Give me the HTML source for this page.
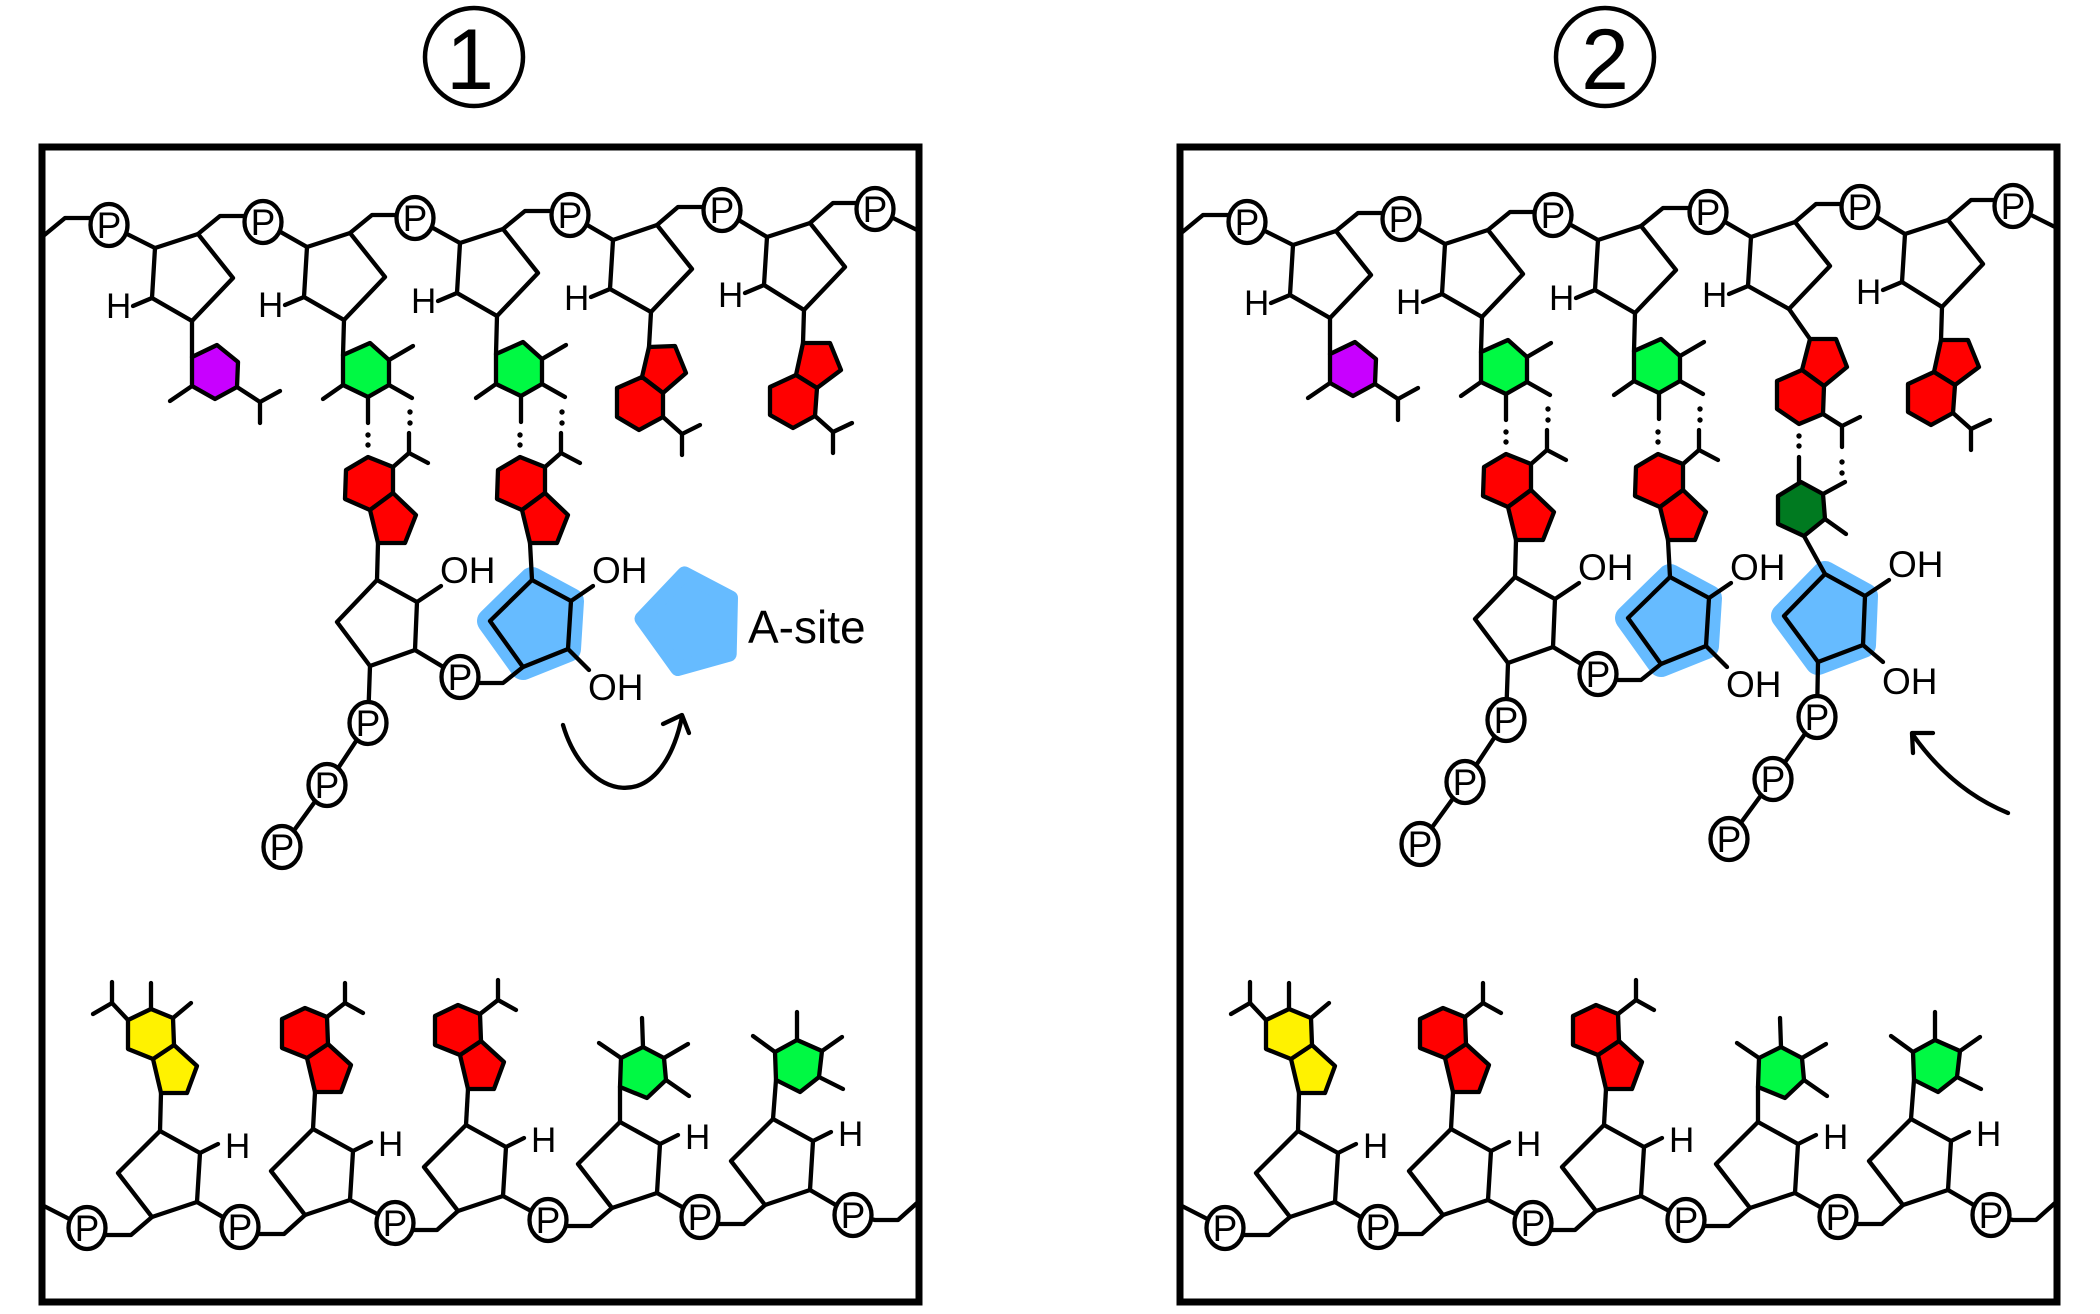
<!DOCTYPE html>
<html>
<head>
<meta charset="utf-8">
<style>
html,body{margin:0;padding:0;background:#fff;}
svg{display:block;}
.ln{fill:none;stroke:#000;stroke-width:4.3;stroke-linejoin:round;stroke-linecap:round;}
.sg{fill:#fff;stroke:#000;stroke-width:4.3;stroke-linejoin:round;}
.red{fill:#ff0000;stroke:#000;stroke-width:4.3;stroke-linejoin:round;}
.grn{fill:#00f943;stroke:#000;stroke-width:4.3;stroke-linejoin:round;}
.pur{fill:#c800ff;stroke:#000;stroke-width:4.3;stroke-linejoin:round;}
.yel{fill:#fff200;stroke:#000;stroke-width:4.3;stroke-linejoin:round;}
.dkg{fill:#007a20;stroke:#000;stroke-width:4.3;stroke-linejoin:round;}
.blu{fill:#66bbff;stroke:#000;stroke-width:4.3;stroke-linejoin:round;}
.hl{fill:#66bbff;stroke:#66bbff;stroke-width:26;stroke-linejoin:round;}
.pc{fill:#fff;stroke:#000;stroke-width:4.3;}
.pt{font-family:"Liberation Sans",sans-serif;font-size:37px;text-anchor:middle;fill:#000;}
.h{font-family:"Liberation Sans",sans-serif;font-size:35px;fill:#000;}
.oh{font-family:"Liberation Sans",sans-serif;font-size:37px;fill:#000;}
.box{fill:none;stroke:#000;stroke-width:7;}
</style>
</head>
<body>
<svg width="2100" height="1314" viewBox="0 0 2100 1314" xmlns="http://www.w3.org/2000/svg">

<!-- Labels -->
<circle cx="474" cy="57" r="49" fill="none" stroke="#000" stroke-width="4.5"/>
<text x="470" y="89" font-family="Liberation Sans, sans-serif" font-size="86" text-anchor="middle">1</text>
<circle cx="1605" cy="57" r="49" fill="none" stroke="#000" stroke-width="4.5"/>
<text x="1605" y="89" font-family="Liberation Sans, sans-serif" font-size="86" text-anchor="middle">2</text>

<!-- Boxes -->
<rect class="box" x="42" y="147" width="877" height="1155"/>
<rect class="box" x="1180" y="147" width="877" height="1155"/>

<!-- ================= PANEL 1 (top + middle) ================= -->
<g id="p1top">
  <polygon class="hl" points="532,580 571,601 568,649 523,667 490,621"/>
  <polyline class="ln" points="42,237 65,218 90,218 109,225 155,248"/>
  <polyline class="ln" points="198,234 220,216 263,216 263,222 307,247"/>
  <polyline class="ln" points="350,233 372,215 415,215 415,218 460,243"/>
  <polyline class="ln" points="503,229 525,211 570,211 570,215 613,240"/>
  <polyline class="ln" points="657,225 678,207 722,207 722,210 767,237"/>
  <polyline class="ln" points="810,223 833,203 875,203 875,209 895,219 917,230"/>
  <polygon class="sg" points="155,248 198,234 233,278 192,321 152,298"/>
  <polygon class="sg" points="307,247 350,233 385,277 344,320 304,297"/>
  <polygon class="sg" points="460,243 503,229 538,273 497,316 457,293"/>
  <polygon class="sg" points="613,240 657,225 692,269 651,312 610,289"/>
  <polygon class="sg" points="767,237 810,223 845,267 804,310 764,285"/>
  <line class="ln" x1="152" y1="298" x2="133" y2="306"/>
  <line class="ln" x1="304" y1="297" x2="285" y2="305"/>
  <line class="ln" x1="457" y1="293" x2="438" y2="301"/>
  <line class="ln" x1="610" y1="289" x2="591" y2="297"/>
  <line class="ln" x1="764" y1="285" x2="745" y2="293"/>
  <line class="ln" x1="192" y1="321" x2="192" y2="357"/>
  <line class="ln" x1="344" y1="320" x2="343" y2="355"/>
  <line class="ln" x1="497" y1="316" x2="496" y2="354"/>
  <line class="ln" x1="804" y1="310" x2="803" y2="343"/>
  <polyline class="ln" points="192,386 170,401"/>
  <polyline class="ln" points="237,387 260,402 280,391"/>
  <line class="ln" x1="260" y1="402" x2="260" y2="423"/>
  <polygon class="pur" points="192,357 217,345 238,362 237,387 215,399 192,386"/>
  <line class="ln" x1="389" y1="360" x2="413" y2="346"/>
  <line class="ln" x1="389" y1="385" x2="412" y2="398"/>
  <line class="ln" x1="343" y1="385" x2="323" y2="399"/>
  <line class="ln" x1="368" y1="397" x2="368" y2="423"/>
  <polygon class="grn" points="343,355 370,343 389,360 389,385 368,397 343,385"/>
  <line class="ln" x1="542" y1="359" x2="566" y2="345"/>
  <line class="ln" x1="542" y1="384" x2="565" y2="397"/>
  <line class="ln" x1="496" y1="384" x2="476" y2="398"/>
  <line class="ln" x1="521" y1="396" x2="521" y2="422"/>
  <polygon class="grn" points="496,354 523,342 542,359 542,384 521,396 496,384"/>
  <polyline class="ln" points="815,416 833,432 852,423"/>
  <line class="ln" x1="833" y1="432" x2="833" y2="453"/>
  <polygon class="red" points="803,343 830,343 841,370 817,388 796,375"/>
  <polygon class="red" points="796,375 817,388 815,416 793,428 770,415 770,387"/>
  <circle cx="368" cy="435" r="2.7"/><circle cx="368" cy="445" r="2.7"/>
  <circle cx="410" cy="412" r="2.7"/><circle cx="410" cy="423" r="2.7"/>
  <circle cx="520" cy="435" r="2.7"/><circle cx="520" cy="445" r="2.7"/>
  <circle cx="562" cy="412" r="2.7"/><circle cx="562" cy="423" r="2.7"/>
  <polyline class="ln" points="393,467 409,453 428,463"/>
  <line class="ln" x1="409" y1="453" x2="409" y2="433"/>
  <line class="ln" x1="378" y1="543" x2="377" y2="580"/>
  <polygon class="red" points="368,457 393,467 393,493 370,510 345,499 346,470"/>
  <polygon class="red" points="393,493 416,515 405,543 378,543 370,510"/>
  <polyline class="ln" points="545,467 561,453 580,463"/>
  <line class="ln" x1="561" y1="453" x2="561" y2="433"/>
  <line class="ln" x1="530" y1="543" x2="532" y2="580"/>
  <polygon class="red" points="520,457 545,467 545,493 522,510 497,499 498,470"/>
  <polygon class="red" points="545,493 568,515 557,543 530,543 522,510"/>
  <line class="ln" x1="417" y1="602" x2="441" y2="586"/>
  <polyline class="ln" points="415,650 460,677 480,683 503,683 523,667"/>
  <polyline class="ln" points="370,666 368,723 327,785 282,847"/>
  <polygon class="sg" points="377,580 417,602 415,650 370,666 337,622"/>
  <line class="ln" x1="571" y1="601" x2="593" y2="586"/>
  <line class="ln" x1="568" y1="649" x2="589" y2="670"/>
  <polygon class="blu" points="532,580 571,601 568,649 523,667 490,621"/>
  <ellipse class="pc" cx="109" cy="225" rx="18.5" ry="21"/><text class="pt" x="109" y="238">P</text>
  <ellipse class="pc" cx="263" cy="222" rx="18.5" ry="21"/><text class="pt" x="263" y="235">P</text>
  <ellipse class="pc" cx="415" cy="218" rx="18.5" ry="21"/><text class="pt" x="415" y="231">P</text>
  <ellipse class="pc" cx="570" cy="215" rx="18.5" ry="21"/><text class="pt" x="570" y="228">P</text>
  <ellipse class="pc" cx="722" cy="210" rx="18.5" ry="21"/><text class="pt" x="722" y="223">P</text>
  <ellipse class="pc" cx="875" cy="209" rx="18.5" ry="21"/><text class="pt" x="875" y="222">P</text>
  <ellipse class="pc" cx="460" cy="677" rx="18.5" ry="21"/><text class="pt" x="460" y="690">P</text>
  <ellipse class="pc" cx="368" cy="723" rx="18.5" ry="21"/><text class="pt" x="368" y="736">P</text>
  <ellipse class="pc" cx="327" cy="785" rx="18.5" ry="21"/><text class="pt" x="327" y="798">P</text>
  <ellipse class="pc" cx="282" cy="847" rx="18.5" ry="21"/><text class="pt" x="282" y="860">P</text>
  <text class="h" x="106" y="318">H</text>
  <text class="h" x="258" y="317">H</text>
  <text class="h" x="411" y="313">H</text>
  <text class="h" x="564" y="310">H</text>
  <text class="h" x="718" y="307">H</text>
  <text class="oh" x="440" y="583">OH</text>
  <text class="oh" x="592" y="583">OH</text>
  <text class="oh" x="588" y="700">OH</text>
</g>

<!-- panel 1 only -->
<g>
  <line class="ln" x1="651" y1="312" x2="649" y2="347"/>
  <polyline class="ln" points="663,417 682,434 700,425"/>
  <line class="ln" x1="682" y1="434" x2="682" y2="455"/>
  <polygon class="red" points="649,347 675,346 686,373 663,393 642,377"/>
  <polygon class="red" points="642,377 663,393 663,417 639,430 617,417 617,388"/>
  <polygon points="684.5,573.9 730.5,598 729.2,654.1 677.8,668.5 642,618.7" fill="#66bbff" stroke="#66bbff" stroke-width="15" stroke-linejoin="round"/>
  <text x="748" y="643" font-family="Liberation Sans, sans-serif" font-size="46">A-site</text>
  <path class="ln" d="M563,725 C585,800 660,820 682,717"/>
  <polyline class="ln" points="663,724 682,715 689,733"/>
</g>

<!-- ================= PANEL 2 (top + middle) ================= -->
<g transform="translate(1138,-3)">
  <polygon class="hl" points="532,580 571,601 568,649 523,667 490,621"/>
  <polygon class="hl" points="687,577 727,599 725,648 680,665 646,619"/>
  <polyline class="ln" points="42,237 65,218 90,218 109,225 155,248"/>
  <polyline class="ln" points="198,234 220,216 263,216 263,222 307,247"/>
  <polyline class="ln" points="350,233 372,215 415,215 415,218 460,243"/>
  <polyline class="ln" points="503,229 525,211 570,211 570,215 613,240"/>
  <polyline class="ln" points="657,225 678,207 722,207 722,210 767,237"/>
  <polyline class="ln" points="810,223 833,203 875,203 875,209 895,219 917,230"/>
  <polygon class="sg" points="155,248 198,234 233,278 192,321 152,298"/>
  <polygon class="sg" points="307,247 350,233 385,277 344,320 304,297"/>
  <polygon class="sg" points="460,243 503,229 538,273 497,316 457,293"/>
  <polygon class="sg" points="613,240 657,225 692,269 651,312 610,289"/>
  <polygon class="sg" points="767,237 810,223 845,267 804,310 764,285"/>
  <line class="ln" x1="152" y1="298" x2="133" y2="306"/>
  <line class="ln" x1="304" y1="297" x2="285" y2="305"/>
  <line class="ln" x1="457" y1="293" x2="438" y2="301"/>
  <line class="ln" x1="610" y1="289" x2="591" y2="297"/>
  <line class="ln" x1="764" y1="285" x2="745" y2="293"/>
  <line class="ln" x1="192" y1="321" x2="192" y2="357"/>
  <line class="ln" x1="344" y1="320" x2="343" y2="355"/>
  <line class="ln" x1="497" y1="316" x2="496" y2="354"/>
  <line class="ln" x1="804" y1="310" x2="803" y2="343"/>
  <polyline class="ln" points="192,386 170,401"/>
  <polyline class="ln" points="237,387 260,402 280,391"/>
  <line class="ln" x1="260" y1="402" x2="260" y2="423"/>
  <polygon class="pur" points="192,357 217,345 238,362 237,387 215,399 192,386"/>
  <line class="ln" x1="389" y1="360" x2="413" y2="346"/>
  <line class="ln" x1="389" y1="385" x2="412" y2="398"/>
  <line class="ln" x1="343" y1="385" x2="323" y2="399"/>
  <line class="ln" x1="368" y1="397" x2="368" y2="423"/>
  <polygon class="grn" points="343,355 370,343 389,360 389,385 368,397 343,385"/>
  <line class="ln" x1="542" y1="359" x2="566" y2="345"/>
  <line class="ln" x1="542" y1="384" x2="565" y2="397"/>
  <line class="ln" x1="496" y1="384" x2="476" y2="398"/>
  <line class="ln" x1="521" y1="396" x2="521" y2="422"/>
  <polygon class="grn" points="496,354 523,342 542,359 542,384 521,396 496,384"/>
  <polyline class="ln" points="815,416 833,432 852,423"/>
  <line class="ln" x1="833" y1="432" x2="833" y2="453"/>
  <polygon class="red" points="803,343 830,343 841,370 817,388 796,375"/>
  <polygon class="red" points="796,375 817,388 815,416 793,428 770,415 770,387"/>
  <circle cx="368" cy="435" r="2.7"/><circle cx="368" cy="445" r="2.7"/>
  <circle cx="410" cy="412" r="2.7"/><circle cx="410" cy="423" r="2.7"/>
  <circle cx="520" cy="435" r="2.7"/><circle cx="520" cy="445" r="2.7"/>
  <circle cx="562" cy="412" r="2.7"/><circle cx="562" cy="423" r="2.7"/>
  <polyline class="ln" points="393,467 409,453 428,463"/>
  <line class="ln" x1="409" y1="453" x2="409" y2="433"/>
  <line class="ln" x1="378" y1="543" x2="377" y2="580"/>
  <polygon class="red" points="368,457 393,467 393,493 370,510 345,499 346,470"/>
  <polygon class="red" points="393,493 416,515 405,543 378,543 370,510"/>
  <polyline class="ln" points="545,467 561,453 580,463"/>
  <line class="ln" x1="561" y1="453" x2="561" y2="433"/>
  <line class="ln" x1="530" y1="543" x2="532" y2="580"/>
  <polygon class="red" points="520,457 545,467 545,493 522,510 497,499 498,470"/>
  <polygon class="red" points="545,493 568,515 557,543 530,543 522,510"/>
  <line class="ln" x1="417" y1="602" x2="441" y2="586"/>
  <polyline class="ln" points="415,650 460,677 480,683 503,683 523,667"/>
  <polyline class="ln" points="370,666 368,723 327,785 282,847"/>
  <polygon class="sg" points="377,580 417,602 415,650 370,666 337,622"/>
  <line class="ln" x1="571" y1="601" x2="593" y2="586"/>
  <line class="ln" x1="568" y1="649" x2="589" y2="670"/>
  <polygon class="blu" points="532,580 571,601 568,649 523,667 490,621"/>

  <line class="ln" x1="651" y1="312" x2="672" y2="342"/>
  <polyline class="ln" points="685,417 704,429 722,420"/>
  <line class="ln" x1="704" y1="429" x2="704" y2="450"/>
  <polygon class="red" points="672,342 698,342 709,370 686,389 664,373"/>
  <polygon class="red" points="664,373 686,389 685,417 661,427 639,412 639,384"/>
  <circle cx="661" cy="439" r="2.7"/><circle cx="661" cy="449" r="2.7"/>
  <circle cx="704" cy="465" r="2.7"/><circle cx="704" cy="476" r="2.7"/>
  <line class="ln" x1="661" y1="460" x2="661" y2="485"/>
  <line class="ln" x1="685" y1="497" x2="707" y2="485"/>
  <line class="ln" x1="687" y1="522" x2="708" y2="537"/>
  <line class="ln" x1="666" y1="539" x2="687" y2="577"/>
  <polygon class="dkg" points="663,485 685,497 687,522 666,539 640,527 640,499"/>
  <line class="ln" x1="727" y1="599" x2="751" y2="583"/>
  <line class="ln" x1="725" y1="648" x2="745" y2="665"/>
  <polyline class="ln" points="680,665 679,720 635,782 591,842"/>
  <polygon class="blu" points="687,577 727,599 725,648 680,665 646,619"/>

  <ellipse class="pc" cx="109" cy="225" rx="18.5" ry="21"/><text class="pt" x="109" y="238">P</text>
  <ellipse class="pc" cx="263" cy="222" rx="18.5" ry="21"/><text class="pt" x="263" y="235">P</text>
  <ellipse class="pc" cx="415" cy="218" rx="18.5" ry="21"/><text class="pt" x="415" y="231">P</text>
  <ellipse class="pc" cx="570" cy="215" rx="18.5" ry="21"/><text class="pt" x="570" y="228">P</text>
  <ellipse class="pc" cx="722" cy="210" rx="18.5" ry="21"/><text class="pt" x="722" y="223">P</text>
  <ellipse class="pc" cx="875" cy="209" rx="18.5" ry="21"/><text class="pt" x="875" y="222">P</text>
  <ellipse class="pc" cx="460" cy="677" rx="18.5" ry="21"/><text class="pt" x="460" y="690">P</text>
  <ellipse class="pc" cx="368" cy="723" rx="18.5" ry="21"/><text class="pt" x="368" y="736">P</text>
  <ellipse class="pc" cx="327" cy="785" rx="18.5" ry="21"/><text class="pt" x="327" y="798">P</text>
  <ellipse class="pc" cx="282" cy="847" rx="18.5" ry="21"/><text class="pt" x="282" y="860">P</text>
  <ellipse class="pc" cx="679" cy="720" rx="18.5" ry="21"/><text class="pt" x="679" y="733">P</text>
  <ellipse class="pc" cx="635" cy="782" rx="18.5" ry="21"/><text class="pt" x="635" y="795">P</text>
  <ellipse class="pc" cx="591" cy="842" rx="18.5" ry="21"/><text class="pt" x="591" y="855">P</text>
  <text class="h" x="106" y="318">H</text>
  <text class="h" x="258" y="317">H</text>
  <text class="h" x="411" y="313">H</text>
  <text class="h" x="564" y="310">H</text>
  <text class="h" x="718" y="307">H</text>
  <text class="oh" x="440" y="583">OH</text>
  <text class="oh" x="592" y="583">OH</text>
  <text class="oh" x="588" y="700">OH</text>
  <text class="oh" x="750" y="580">OH</text>
  <text class="oh" x="744" y="697">OH</text>
</g>

<path class="ln" d="M2008,813 Q1952,790 1913,735"/>
<polyline class="ln" points="1933,733 1912,733 1913,753"/>

<!-- ================= BOTTOM STRANDS ================= -->
<g id="bot1">
  <polyline class="ln" points="42,1205 87,1228"/>
  <polyline class="ln" points="87,1235 131,1235 152,1217"/>
  <polyline class="ln" points="240,1234 284,1234 305,1215"/>
  <polyline class="ln" points="395,1230 437,1230 458,1211"/>
  <polyline class="ln" points="548,1226 591,1226 612,1208"/>
  <polyline class="ln" points="700,1224 744,1224 765,1205"/>
  <line class="ln" x1="197" y1="1202" x2="240" y2="1227"/>
  <line class="ln" x1="350" y1="1200" x2="395" y2="1223"/>
  <line class="ln" x1="503" y1="1196" x2="548" y2="1220"/>
  <line class="ln" x1="657" y1="1193" x2="700" y2="1217"/>
  <line class="ln" x1="810" y1="1190" x2="853" y2="1215"/>
  <polyline class="ln" points="853,1215 875,1220 898,1220 917,1203"/>
  <polygon class="sg" points="152,1217 197,1202 200,1153 160,1131 118,1173"/>
  <polygon class="sg" points="305,1215 350,1200 353,1151 313,1129 271,1171"/>
  <polygon class="sg" points="458,1211 503,1196 506,1147 466,1125 424,1167"/>
  <polygon class="sg" points="612,1208 657,1193 660,1144 620,1122 578,1164"/>
  <polygon class="sg" points="765,1205 810,1190 813,1141 773,1119 731,1161"/>
  <line class="ln" x1="200" y1="1153" x2="218" y2="1144"/>
  <line class="ln" x1="353" y1="1151" x2="371" y2="1142"/>
  <line class="ln" x1="506" y1="1147" x2="524" y2="1138"/>
  <line class="ln" x1="660" y1="1144" x2="678" y2="1135"/>
  <line class="ln" x1="813" y1="1141" x2="831" y2="1132"/>
  <line class="ln" x1="160" y1="1131" x2="161" y2="1093"/>
  <line class="ln" x1="313" y1="1129" x2="315" y2="1092"/>
  <line class="ln" x1="466" y1="1125" x2="468" y2="1089"/>
  <line class="ln" x1="620" y1="1122" x2="620" y2="1087"/>
  <line class="ln" x1="773" y1="1119" x2="776" y2="1080"/>
  <polyline class="ln" points="128,1020 112,1003 93,1014"/>
  <line class="ln" x1="112" y1="1003" x2="112" y2="982"/>
  <line class="ln" x1="151" y1="1009" x2="151" y2="983"/>
  <line class="ln" x1="173" y1="1018" x2="191" y2="1003"/>
  <polygon class="yel" points="161,1093 187,1093 197,1066 174,1045 153,1059"/>
  <polygon class="yel" points="153,1059 174,1045 173,1018 151,1009 128,1020 128,1049"/>
  <polyline class="ln" points="327,1017 345,1003 363,1013"/>
  <line class="ln" x1="345" y1="1003" x2="345" y2="983"/>
  <polygon class="red" points="315,1092 341,1092 351,1065 328,1044 307,1058"/>
  <polygon class="red" points="307,1058 328,1044 327,1017 305,1008 282,1019 282,1048"/>
  <polyline class="ln" points="480,1014 498,1000 516,1010"/>
  <line class="ln" x1="498" y1="1000" x2="498" y2="980"/>
  <polygon class="red" points="468,1089 494,1089 504,1062 481,1041 460,1055"/>
  <polygon class="red" points="460,1055 481,1041 480,1014 458,1005 435,1016 435,1045"/>
  <line class="ln" x1="621" y1="1058" x2="599" y2="1043"/>
  <line class="ln" x1="643" y1="1047" x2="642" y2="1018"/>
  <line class="ln" x1="664" y1="1058" x2="688" y2="1044"/>
  <line class="ln" x1="666" y1="1080" x2="689" y2="1096"/>
  <polygon class="grn" points="620,1087 647,1098 666,1080 664,1058 643,1047 621,1058"/>
  <line class="ln" x1="775" y1="1052" x2="753" y2="1036"/>
  <line class="ln" x1="797" y1="1040" x2="797" y2="1012"/>
  <line class="ln" x1="822" y1="1051" x2="842" y2="1037"/>
  <line class="ln" x1="819" y1="1077" x2="843" y2="1089"/>
  <polygon class="grn" points="776,1080 800,1092 819,1077 822,1051 797,1040 775,1052"/>
  <ellipse class="pc" cx="87" cy="1228" rx="18.5" ry="21"/><text class="pt" x="87" y="1241">P</text>
  <ellipse class="pc" cx="240" cy="1227" rx="18.5" ry="21"/><text class="pt" x="240" y="1240">P</text>
  <ellipse class="pc" cx="395" cy="1223" rx="18.5" ry="21"/><text class="pt" x="395" y="1236">P</text>
  <ellipse class="pc" cx="548" cy="1220" rx="18.5" ry="21"/><text class="pt" x="548" y="1233">P</text>
  <ellipse class="pc" cx="700" cy="1217" rx="18.5" ry="21"/><text class="pt" x="700" y="1230">P</text>
  <ellipse class="pc" cx="853" cy="1215" rx="18.5" ry="21"/><text class="pt" x="853" y="1228">P</text>
  <text class="h" x="225" y="1158">H</text>
  <text class="h" x="378" y="1156">H</text>
  <text class="h" x="531" y="1152">H</text>
  <text class="h" x="685" y="1149">H</text>
  <text class="h" x="838" y="1146">H</text>
</g>

<g transform="translate(1138,0)">
  <polyline class="ln" points="42,1205 87,1228"/>
  <polyline class="ln" points="87,1235 131,1235 152,1217"/>
  <polyline class="ln" points="240,1234 284,1234 305,1215"/>
  <polyline class="ln" points="395,1230 437,1230 458,1211"/>
  <polyline class="ln" points="548,1226 591,1226 612,1208"/>
  <polyline class="ln" points="700,1224 744,1224 765,1205"/>
  <line class="ln" x1="197" y1="1202" x2="240" y2="1227"/>
  <line class="ln" x1="350" y1="1200" x2="395" y2="1223"/>
  <line class="ln" x1="503" y1="1196" x2="548" y2="1220"/>
  <line class="ln" x1="657" y1="1193" x2="700" y2="1217"/>
  <line class="ln" x1="810" y1="1190" x2="853" y2="1215"/>
  <polyline class="ln" points="853,1215 875,1220 898,1220 917,1203"/>
  <polygon class="sg" points="152,1217 197,1202 200,1153 160,1131 118,1173"/>
  <polygon class="sg" points="305,1215 350,1200 353,1151 313,1129 271,1171"/>
  <polygon class="sg" points="458,1211 503,1196 506,1147 466,1125 424,1167"/>
  <polygon class="sg" points="612,1208 657,1193 660,1144 620,1122 578,1164"/>
  <polygon class="sg" points="765,1205 810,1190 813,1141 773,1119 731,1161"/>
  <line class="ln" x1="200" y1="1153" x2="218" y2="1144"/>
  <line class="ln" x1="353" y1="1151" x2="371" y2="1142"/>
  <line class="ln" x1="506" y1="1147" x2="524" y2="1138"/>
  <line class="ln" x1="660" y1="1144" x2="678" y2="1135"/>
  <line class="ln" x1="813" y1="1141" x2="831" y2="1132"/>
  <line class="ln" x1="160" y1="1131" x2="161" y2="1093"/>
  <line class="ln" x1="313" y1="1129" x2="315" y2="1092"/>
  <line class="ln" x1="466" y1="1125" x2="468" y2="1089"/>
  <line class="ln" x1="620" y1="1122" x2="620" y2="1087"/>
  <line class="ln" x1="773" y1="1119" x2="776" y2="1080"/>
  <polyline class="ln" points="128,1020 112,1003 93,1014"/>
  <line class="ln" x1="112" y1="1003" x2="112" y2="982"/>
  <line class="ln" x1="151" y1="1009" x2="151" y2="983"/>
  <line class="ln" x1="173" y1="1018" x2="191" y2="1003"/>
  <polygon class="yel" points="161,1093 187,1093 197,1066 174,1045 153,1059"/>
  <polygon class="yel" points="153,1059 174,1045 173,1018 151,1009 128,1020 128,1049"/>
  <polyline class="ln" points="327,1017 345,1003 363,1013"/>
  <line class="ln" x1="345" y1="1003" x2="345" y2="983"/>
  <polygon class="red" points="315,1092 341,1092 351,1065 328,1044 307,1058"/>
  <polygon class="red" points="307,1058 328,1044 327,1017 305,1008 282,1019 282,1048"/>
  <polyline class="ln" points="480,1014 498,1000 516,1010"/>
  <line class="ln" x1="498" y1="1000" x2="498" y2="980"/>
  <polygon class="red" points="468,1089 494,1089 504,1062 481,1041 460,1055"/>
  <polygon class="red" points="460,1055 481,1041 480,1014 458,1005 435,1016 435,1045"/>
  <line class="ln" x1="621" y1="1058" x2="599" y2="1043"/>
  <line class="ln" x1="643" y1="1047" x2="642" y2="1018"/>
  <line class="ln" x1="664" y1="1058" x2="688" y2="1044"/>
  <line class="ln" x1="666" y1="1080" x2="689" y2="1096"/>
  <polygon class="grn" points="620,1087 647,1098 666,1080 664,1058 643,1047 621,1058"/>
  <line class="ln" x1="775" y1="1052" x2="753" y2="1036"/>
  <line class="ln" x1="797" y1="1040" x2="797" y2="1012"/>
  <line class="ln" x1="822" y1="1051" x2="842" y2="1037"/>
  <line class="ln" x1="819" y1="1077" x2="843" y2="1089"/>
  <polygon class="grn" points="776,1080 800,1092 819,1077 822,1051 797,1040 775,1052"/>
  <ellipse class="pc" cx="87" cy="1228" rx="18.5" ry="21"/><text class="pt" x="87" y="1241">P</text>
  <ellipse class="pc" cx="240" cy="1227" rx="18.5" ry="21"/><text class="pt" x="240" y="1240">P</text>
  <ellipse class="pc" cx="395" cy="1223" rx="18.5" ry="21"/><text class="pt" x="395" y="1236">P</text>
  <ellipse class="pc" cx="548" cy="1220" rx="18.5" ry="21"/><text class="pt" x="548" y="1233">P</text>
  <ellipse class="pc" cx="700" cy="1217" rx="18.5" ry="21"/><text class="pt" x="700" y="1230">P</text>
  <ellipse class="pc" cx="853" cy="1215" rx="18.5" ry="21"/><text class="pt" x="853" y="1228">P</text>
  <text class="h" x="225" y="1158">H</text>
  <text class="h" x="378" y="1156">H</text>
  <text class="h" x="531" y="1152">H</text>
  <text class="h" x="685" y="1149">H</text>
  <text class="h" x="838" y="1146">H</text>
</g>

</svg>
</body>
</html>
